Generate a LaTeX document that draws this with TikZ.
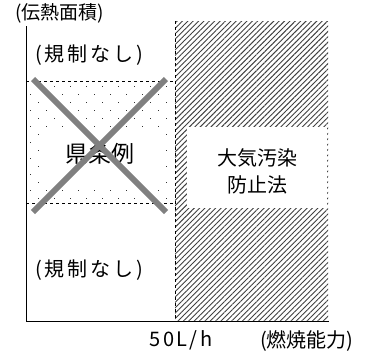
\documentclass[tikz,border=0pt]{standalone}
\usepackage{fontspec}
\setmainfont{Noto Sans CJK JP}
\usetikzlibrary{patterns.meta}
\begin{document}
\begin{tikzpicture}[x=1pt,y=-1pt,
  lbl/.style={inner sep=0pt,font=\fontsize{20}{22}\selectfont},
  xline/.style={line width=6pt,color=black!50},
  axis/.style={line width=1pt}]
\useasboundingbox (0,0) rectangle (373,354);
% hatched region
\fill[pattern={Lines[angle=45,distance=3.8pt,line width=0.9pt]},pattern color=black!75] (175,21) rectangle (328,321);
\draw[dashed,line width=0.6pt] (175,21) -- (175,321);
% white box
\fill[white] (187,127) rectangle (327,208);
\node[lbl] (taiki) at (257,158) {大気汚染};
\node[lbl] (boshi) at (257,185) {防止法};
% dotted region
\foreach \r in {0,...,14}{
  \pgfmathsetmacro{\yy}{86+8*\r}
  \pgfmathsetmacro{\off}{mod(\r,2)==0 ? 12 : 4}
  \foreach \c in {0,...,9}{
    \pgfmathsetmacro{\xx}{26+\off+16*\c}
    \ifdim \xx pt<172pt \fill[black!80] (\xx,\yy) rectangle ++(1.3,1.3);\fi
  }
}
\draw[dashed,line width=0.7pt] (26,81) -- (175,81);
\draw[dashed,line width=0.7pt] (26,203) -- (175,203);
\fill[white] (41,127) rectangle (162,183);
\node[lbl,font=\fontsize{23}{25}\selectfont] (ken) at (100,154) {県条例};
% cross
\coordinate (c1) at (33,79);
\coordinate (c2) at (166,212);
\coordinate (c3) at (166,79);
\coordinate (c4) at (33,212);
\draw[xline] (c1) -- (c2);
\draw[xline] (c3) -- (c4);
% axes
\coordinate (o) at (26,321);
\coordinate (yt) at (26,26);
\coordinate (xr) at (329,321);
\draw[axis] (yt) -- (o) -- (xr);
% labels
\node[lbl,font=\fontsize{19}{21}\selectfont,anchor=west] (ylab) at (15,13) {(伝熱面積)};
\node[lbl,anchor=west] (nr1) at (35,55) {\addfontfeature{LetterSpace=15}(規制なし)};
\node[lbl,anchor=west] (nr2) at (35,270) {\addfontfeature{LetterSpace=15}(規制なし)};
\node[lbl] (fifty) at (181,340) {\addfontfeature{LetterSpace=12}50L/h};
\node[lbl,anchor=west] (xlab) at (260,341) {(燃焼能力)};
\end{tikzpicture}
\end{document}
